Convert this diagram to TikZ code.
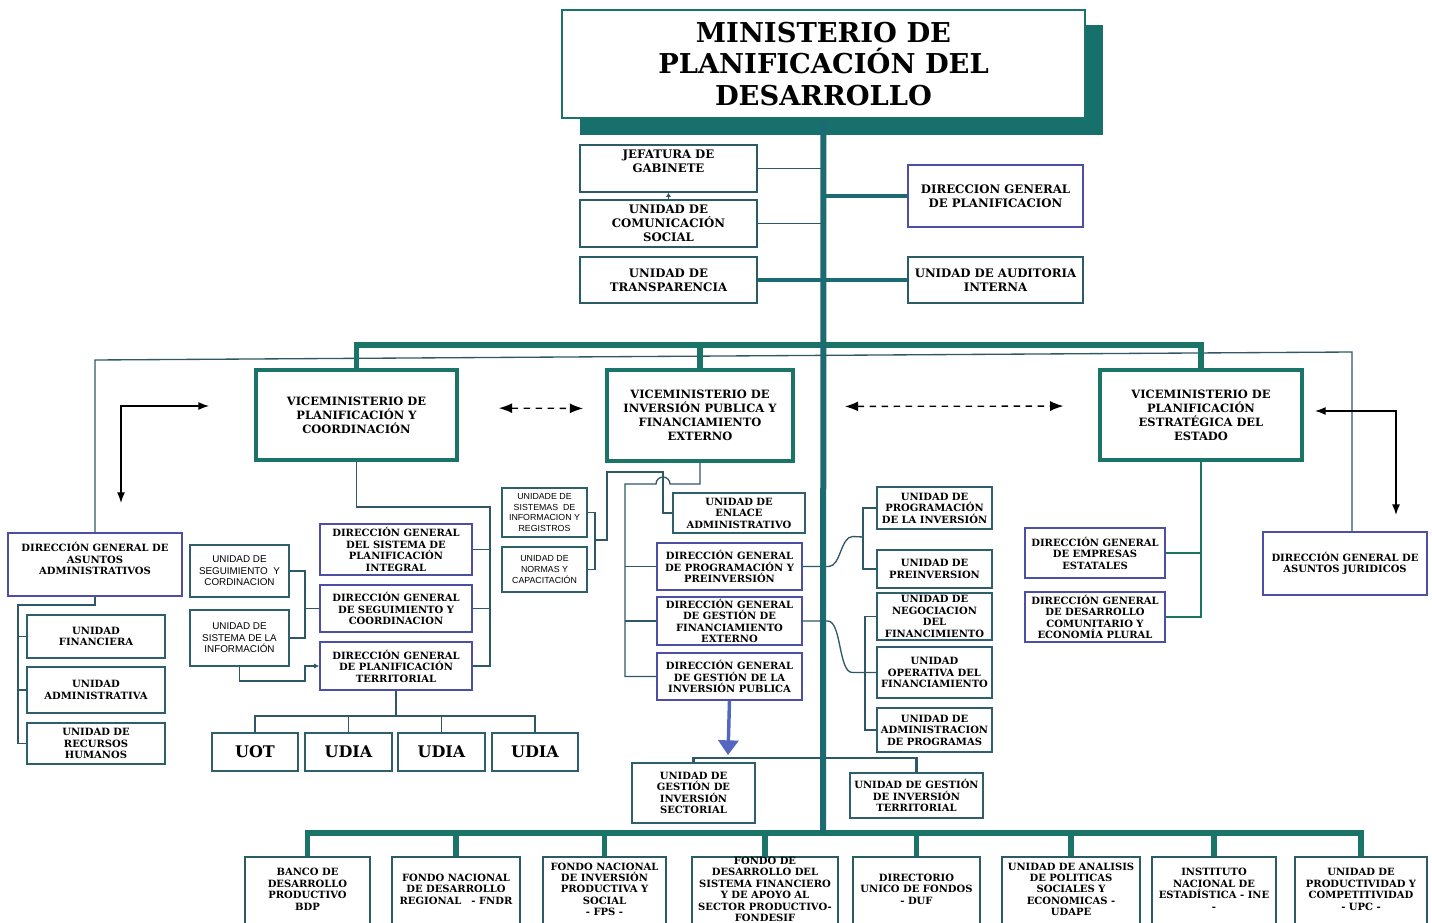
\documentclass[tikz,border=0pt]{standalone}
\usepackage{fontspec}
\setmainfont{DejaVu Serif}
\setsansfont{Liberation Sans}
\usepackage{tikz}
\usetikzlibrary{arrows.meta,positioning,calc}
\definecolor{vteal}{HTML}{1B7468}
\definecolor{trunkc}{HTML}{1D6A73}
\definecolor{shadowc}{HTML}{17706B}
\definecolor{linkc}{HTML}{2F5866}
\definecolor{dgedge}{HTML}{4D4FA6}
\definecolor{unitedge}{HTML}{2D5F6C}
\definecolor{staffedge}{HTML}{2A5C66}
\definecolor{arrowblue}{HTML}{5566C0}

\tikzset{
  sz/.style 2 args={minimum width=#1*0.75pt, minimum height=#2*0.75pt},
  basebox/.style={draw, fill=white, align=center, inner sep=0pt},
  titlebox/.style={basebox, draw=vteal, line width=1.5pt, font=\bfseries\fontsize{20.5}{23.6}\selectfont},
  staffbox/.style={basebox, draw=staffedge, line width=1.2pt, font=\bfseries\fontsize{8.8}{10.5}\selectfont},
  vicebox/.style={basebox, draw=vteal, line width=2.8pt, font=\bfseries\fontsize{8.6}{10.5}\selectfont},
  dgbox/.style={basebox, draw=dgedge, line width=1pt, font=\bfseries\fontsize{7.5}{8.6}\selectfont},
  unitbox/.style={basebox, draw=unitedge, line width=1pt, font=\bfseries\fontsize{7.5}{8.6}\selectfont},
  sansbox/.style={basebox, draw=unitedge, line width=1pt, font=\sffamily\fontsize{7.4}{8.6}\selectfont},
  bigbox/.style={basebox, draw=unitedge, line width=1.2pt, font=\bfseries\fontsize{12}{14}\selectfont},
  entbox/.style={basebox, draw=staffedge, line width=1.2pt, font=\bfseries\fontsize{7.5}{8.6}\selectfont},
  trunkline/.style={draw=trunkc, line width=4.5pt},
  busline/.style={draw=vteal, line width=3.8pt},
  thickln/.style={draw=trunkc, line width=3pt},
  thinln/.style={draw=linkc, line width=1pt},
  elbowarrow/.style={draw=black, line width=1pt, {Latex[length=8pt,width=6pt]}-{Latex[length=8pt,width=6pt]}},
  dasharrow/.style={draw=black, line width=1pt, dash pattern=on 5pt off 4pt, {Latex[length=10pt,width=7.5pt]}-{Latex[length=10pt,width=7.5pt]}},
  bluearrow/.style={draw=arrowblue, line width=2.6pt, -{Triangle[length=11pt,width=15pt]}}
}

\begin{document}
\begin{tikzpicture}[x=0.75pt,y=-0.75pt]
\useasboundingbox (0,0) rectangle (1432,923);

% --- ministerio and staff units
\fill[shadowc] (580,25) rectangle (1103,135);
\node[titlebox, sz={523}{108}] (title) at (823.5,64) {MINISTERIO DE\\PLANIFICACIÓN DEL\\DESARROLLO};
\node[staffbox, sz={177}{47}] (jefatura) at (668.5,168.5) {JEFATURA DE\\GABINETE\\\mbox{}};
\node[staffbox, sz={177}{47}] (comunic) at (668.5,223.5) {UNIDAD DE\\COMUNICACIÓN\\SOCIAL};
\node[staffbox, sz={177}{46}] (transp) at (668.5,280) {UNIDAD DE\\TRANSPARENCIA};
\node[staffbox, draw=dgedge, sz={175}{62}] (dgplan) at (995.5,196) {DIRECCION GENERAL\\DE PLANIFICACION};
\node[staffbox, sz={175}{46}] (auditoria) at (995.5,280) {UNIDAD DE AUDITORIA\\INTERNA};

% --- viceministerios
\node[vicebox, sz={201}{90}] (vpc) at (356.5,415) {VICEMINISTERIO DE\\PLANIFICACIÓN Y\\COORDINACIÓN};
\node[vicebox, sz={186}{91}] (vipfe) at (700,415.5) {VICEMINISTERIO DE\\INVERSIÓN PUBLICA Y\\FINANCIAMIENTO\\EXTERNO};
\node[vicebox, sz={202}{90}] (vpee) at (1201,415) {VICEMINISTERIO DE\\PLANIFICACIÓN\\ESTRATÉGICA DEL\\ESTADO};

% --- left branch
\node[dgbox, sz={174}{63}] (dgaa) at (95,564.5) {DIRECCIÓN GENERAL DE\\ASUNTOS\\ADMINISTRATIVOS\\\mbox{}};
\node[unitbox, sz={138}{43}] (unifin) at (96,636.5) {UNIDAD\\FINANCIERA};
\node[unitbox, sz={138}{46}] (uniadm) at (96,690) {UNIDAD\\ADMINISTRATIVA};
\node[unitbox, sz={138}{41}] (unirrhh) at (96,743.5) {UNIDAD DE\\RECURSOS\\HUMANOS};

\node[sansbox, sz={99}{52}] (useg) at (239.5,571) {UNIDAD DE\\SEGUIMIENTO\ \ Y\\CORDINACION};
\node[sansbox, sz={99}{56}] (usis) at (239.5,638) {UNIDAD DE\\SISTEMA DE LA\\INFORMACIÓN};
\node[dgbox, sz={152}{51}] (dgsis) at (396,549.5) {DIRECCIÓN GENERAL\\DEL SISTEMA DE\\PLANIFICACIÓN\\INTEGRAL};
\node[dgbox, sz={152}{47}] (dgseg) at (396,608.5) {DIRECCIÓN GENERAL\\DE SEGUIMIENTO Y\\COORDINACION};
\node[dgbox, sz={152}{48}] (dgter) at (396,666) {DIRECCIÓN GENERAL\\DE PLANIFICACIÓN\\TERRITORIAL};
\node[bigbox, sz={86}{38}] (uot) at (255,752) {UOT};
\node[bigbox, sz={87}{38}] (udia1) at (348.5,752) {UDIA};
\node[bigbox, sz={87}{38}] (udia2) at (441.5,752) {UDIA};
\node[bigbox, sz={86}{38}] (udia3) at (535,752) {UDIA};

% --- inversion publica branch
\node[sansbox, font=\sffamily\fontsize{6.6}{8.2}\selectfont, sz={85}{49}] (usir) at (544.5,512.5) {UNIDADE DE\\SISTEMAS\ \ DE\\INFORMACION Y\\REGISTROS};
\node[sansbox, font=\sffamily\fontsize{6.6}{8.2}\selectfont, sz={85}{45}] (unor) at (544.5,569.5) {UNIDAD DE\\NORMAS Y\\CAPACITACIÓN};
\node[unitbox, sz={132}{40}] (enlace) at (739,513) {UNIDAD DE\\ENLACE\\ADMINISTRATIVO};
\node[dgbox, sz={145}{47}] (dgprog) at (729.5,566.5) {DIRECCIÓN GENERAL\\DE PROGRAMACIÓN Y\\PREINVERSIÓN};
\node[dgbox, sz={145}{48}] (dgfin) at (729.5,621) {DIRECCIÓN GENERAL\\DE GESTIÓN DE\\FINANCIAMIENTO\\EXTERNO};
\node[dgbox, sz={145}{47}] (dginv) at (729.5,676.5) {DIRECCIÓN GENERAL\\DE GESTIÓN DE LA\\INVERSIÓN PUBLICA};
\node[unitbox, sz={123}{60}] (usec) at (693.5,793) {UNIDAD DE\\GESTIÓN DE\\INVERSIÓN\\SECTORIAL};
\node[unitbox, sz={133}{45}] (uter) at (916.5,795.5) {UNIDAD DE GESTIÓN\\DE INVERSIÓN\\TERRITORIAL};

\node[unitbox, sz={115}{42}] (upi) at (934.5,508) {UNIDAD DE\\PROGRAMACIÓN\\DE LA INVERSIÓN};
\node[unitbox, sz={115}{38}] (upre) at (934.5,569) {UNIDAD DE\\PREINVERSION};
\node[unitbox, sz={115}{47}] (uneg) at (934.5,616.5) {UNIDAD DE\\NEGOCIACION\\DEL\\FINANCIMIENTO};
\node[unitbox, sz={115}{51}] (uope) at (934.5,672.5) {UNIDAD\\OPERATIVA DEL\\FINANCIAMIENTO};
\node[unitbox, sz={115}{44}] (uadp) at (934.5,730) {UNIDAD DE\\ADMINISTRACION\\DE PROGRAMAS};

% --- right branch
\node[dgbox, sz={140}{50}] (dgemp) at (1095,553) {DIRECCIÓN GENERAL\\DE EMPRESAS\\ESTATALES};
\node[dgbox, sz={140}{50}] (dgdes) at (1095,617) {DIRECCIÓN GENERAL\\DE DESARROLLO\\COMUNITARIO Y\\ECONOMÍA PLURAL};
\node[dgbox, sz={164}{63}] (dgjur) at (1345,563.5) {DIRECCIÓN GENERAL DE\\ASUNTOS JURIDICOS};

% --- entidades bajo tuición
\node[entbox, sz={125}{76}] (b1) at (307.5,895) {BANCO DE\\DESARROLLO\\PRODUCTIVO\\BDP\\\mbox{}};
\node[entbox, sz={128}{76}] (b2) at (456,895) {FONDO NACIONAL\\DE DESARROLLO\\REGIONAL\quad - FNDR\\\mbox{}};
\node[entbox, sz={123}{76}] (b3) at (604.5,895) {FONDO NACIONAL\\DE INVERSIÓN\\PRODUCTIVA Y\\SOCIAL\\- FPS -\\\mbox{}};
\node[entbox, sz={146}{76}] (b4) at (765,895) {FONDO DE\\DESARROLLO DEL\\SISTEMA FINANCIERO\\Y DE APOYO AL\\SECTOR PRODUCTIVO-\\FONDESIF\\\mbox{}};
\node[entbox, sz={127}{76}] (b5) at (916.5,895) {DIRECTORIO\\UNICO DE FONDOS\\- DUF\\\mbox{}};
\node[entbox, sz={138}{76}] (b6) at (1071,895) {UNIDAD DE ANALISIS\\DE POLITICAS\\SOCIALES Y\\ECONOMICAS -\\UDAPE\\\mbox{}};
\node[entbox, sz={124}{76}] (b7) at (1214,895) {INSTITUTO\\NACIONAL DE\\ESTADÍSTICA - INE\\-\\\mbox{}};
\node[entbox, sz={132}{76}] (b8) at (1361,895) {UNIDAD DE\\PRODUCTIVIDAD Y\\COMPETITIVIDAD\\- UPC -\\\mbox{}};

% --- bus points
\coordinate (busbot) at (823,833);
\coordinate (vbus) at (823,345);
\coordinate (outerl) at (95,360);
\coordinate (outerr) at (1352,352);
\coordinate (cp1) at (490,507);
\coordinate (sj) at (305,638);
\coordinate (sa) at (305,681);
\coordinate (aa) at (18,605);
\coordinate (tb) at (396,716);
\coordinate (dgbus) at (625,484);
\coordinate (sb) at (595,540);
\coordinate (sk) at (607,472);
\coordinate (sh) at (663,472);
\coordinate (pb) at (863,537);
\coordinate (nb) at (865,610);
\coordinate (ga) at (728,755);
\coordinate (gb) at (728,758);

% thin links
\draw[thinln] (dgaa.north) -- (outerl) -- (outerr) -- (outerr |- dgjur.north);
\draw[thinln] (jefatura.east) -- (jefatura.east -| busbot);
\draw[thinln] (comunic.east) -- (comunic.east -| busbot);
\draw[thinln, -{Latex[length=3pt,width=4pt]}] (comunic.north) -- (jefatura.south);

\draw[thinln] (vpc.south) |- (cp1) |- (dgter.east);
\draw[thinln] (dgsis.east) -- (dgsis.east -| cp1);
\draw[thinln] (dgseg.east) -- (dgseg.east -| cp1);
\draw[thinln] (useg.east) -| (sj) -- (usis.east);
\draw[thinln] (dgseg.west) -- (dgseg.west -| sj);
\draw[thinln, -{Latex[length=4pt,width=4pt]}] (usis.south) |- (sa) |- (dgter.west);
\draw[thinln] (dgaa.south) |- (aa) |- (unirrhh.west);
\draw[thinln] (unifin.west) -- (unifin.west -| aa);
\draw[thinln] (uniadm.west) -- (uniadm.west -| aa);
\draw[thinln] (dgter.south) -- (dgter.south |- tb);
\draw[thinln] (uot.north) |- (tb) -| (udia3.north);
\draw[thinln] (udia1.north) -- (udia1.north |- tb);
\draw[thinln] (udia2.north) -- (udia2.north |- tb);

\draw[thinln] (vipfe.south) |- (670,484) arc[start angle=0, end angle=-180, radius=7] -- (dgbus) |- (dginv.west);
\draw[thinln] (dgprog.west) -- (dgprog.west -| dgbus);
\draw[thinln] (dgfin.west) -- (dgfin.west -| dgbus);
\draw[thinln] (usir.east) -- (usir.east -| sb) -- (unor.east -| sb) -- (unor.east);
\draw[thinln] (sb) -| (sk) -| (enlace.west -| sh) -- (enlace.west);

\draw[thinln] (dgprog.east) -- ++(26,0) .. controls +(12,0) and +(-12,0) .. ++(24,-30) -- (pb);
\draw[thinln] (upi.west) -- (upi.west -| pb) -- (upre.west -| pb) -- (upre.west);
\draw[thinln] (dgfin.east) -- ++(25,0) .. controls +(14,0) and +(-14,0) .. ([xshift=-18pt]uope.west) -- (uope.west);
\draw[thinln] (uneg.west) -- (uneg.west -| nb) -- (uadp.west -| nb) -- (uadp.west);

\draw[bluearrow] (dginv.south) -- (ga);
\draw[thinln, line width=1.6pt] (usec.north) |- (gb) -| (uter.north);

\draw[thinln, draw=vteal, line width=1.3pt] (vpee.south) |- (dgdes.east);
\draw[thinln, draw=vteal, line width=1.3pt] (dgemp.east) -- (dgemp.east -| vpee.south);

% thick links and buses
\draw[thickln] (transp.east) -- (transp.east -| busbot);
\draw[thickln] (dgplan.west) -- (dgplan.west -| busbot);
\draw[thickln] (auditoria.west) -- (auditoria.west -| busbot);
\draw[busline] (vpc.north) |- (vbus) -| (vpee.north);
\draw[busline] (vipfe.north) -- (vipfe.north |- vbus);
\draw[busline] (b1.north) |- (busbot) -| (b8.north);
\foreach \b in {b2,b3,b4,b5,b6,b7}
  \draw[busline] (\b.north) -- (\b.north |- busbot);
\draw[trunkline] (title.south) -- (busbot);

% relations between viceministerios
\coordinate (al1) at (121,503);
\coordinate (al2) at (209,406);
\coordinate (ar1) at (1315,411);
\coordinate (ar2) at (1396,515);
\draw[elbowarrow] (al1) |- (al2);
\draw[elbowarrow] (ar1) -| (ar2);
\draw[dasharrow, shorten <=30pt, shorten >=16.5pt] ([yshift=5.25pt]vpc.east) -- ([yshift=5.25pt]vipfe.west);
\draw[dasharrow, shorten <=37.5pt, shorten >=26pt] ([yshift=6.75pt]vipfe.east) -- ([yshift=6.75pt]vpee.west);
\end{tikzpicture}
\end{document}
